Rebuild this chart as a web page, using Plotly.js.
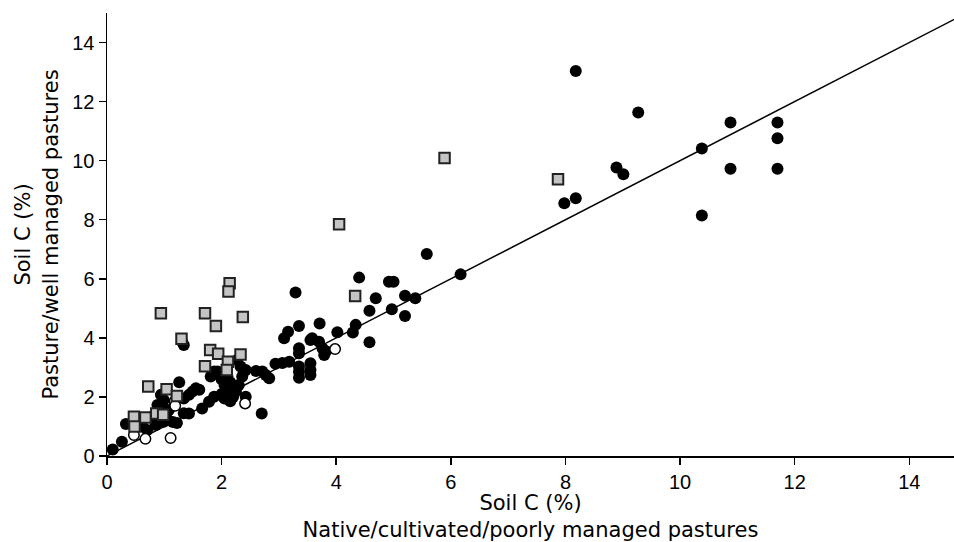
<!DOCTYPE html>
<html>
<head>
<meta charset="utf-8">
<script src="https://cdn.plot.ly/plotly-3.0.1.min.js"></script>
<style>html,body{margin:0;padding:0;background:#fff;}#chart{width:954px;height:542px;}</style>
</head>
<body>
<div id="chart"></div>
<script>
// Filled circles
const filledX = [8.18,9.27,10.88,11.70,11.70,10.38,8.89,9.01,10.88,11.70,10.38,7.98,8.18,
  5.58,6.17,4.40,4.92,5.00,3.29,4.69,5.20,5.38,4.58,4.97,5.20,4.58,4.02,4.34,4.29,
  3.35,3.71,3.16,3.09,3.55,3.70,3.58,3.35,3.35,3.76,3.82,3.79,2.94,3.06,3.18,3.35,3.35,3.35,3.55,3.55,3.55,
  2.60,2.71,2.77,2.83,2.42,2.36,2.42,2.70,2.33,2.39,2.27,
  2.00,2.10,2.05,2.15,2.20,2.10,2.00,2.25,2.20,2.05,2.30,2.15,
  1.87,1.81,1.93,1.87,1.78,1.66,1.43,1.61,1.55,1.49,1.43,1.34,1.26,1.31,1.34,
  1.08,0.94,0.99,0.94,0.88,0.79,1.05,1.15,1.22,1.34,0.99,0.85,0.62,0.70,0.33,0.26,0.10];
const filledY = [13.04,11.63,11.29,11.29,10.76,10.41,9.77,9.54,9.73,9.73,8.14,8.56,8.73,
  6.84,6.15,6.04,5.90,5.90,5.54,5.34,5.43,5.34,4.92,4.97,4.74,3.85,4.19,4.44,4.18,
  4.40,4.49,4.21,3.99,3.93,3.87,3.99,3.65,3.48,3.65,3.55,3.42,3.12,3.15,3.19,3.03,2.85,2.65,3.14,2.91,2.74,
  2.88,2.86,2.74,2.63,2.91,2.69,2.01,1.44,3.03,2.86,3.25,
  2.60,2.70,2.40,2.50,2.35,2.20,2.10,2.20,2.00,1.95,2.40,1.85,
  2.86,2.69,2.86,2.01,1.84,1.61,1.44,2.24,2.29,2.18,2.07,1.95,2.50,3.87,3.76,
  1.56,1.67,1.90,2.07,1.73,1.33,1.25,1.15,1.12,1.45,1.16,1.05,0.99,0.88,1.08,0.48,0.22];

// Open circles
const openX = [0.47,0.67,1.11,1.18,1.19,2.41,3.98];
const openY = [0.71,0.58,0.61,1.85,1.70,1.78,3.62];

// Squares
const squareX = [2.14,2.12,0.94,1.71,2.37,1.90,1.30,1.80,1.94,2.11,2.33,1.71,2.09,0.72,1.04,1.22,0.47,0.67,0.48,0.86,0.98,4.33,5.89,7.87,4.05];
const squareY = [5.85,5.57,4.83,4.83,4.71,4.40,3.97,3.59,3.46,3.19,3.44,3.04,2.91,2.35,2.26,2.03,1.33,1.30,1.00,1.44,1.40,5.42,10.09,9.37,7.85];

// 1:1 line
const lineX = [0, 15];
const lineY = [0, 15];

const tickVals = [0,2,4,6,8,10,12,14];

const traces = [
  {x: lineX, y: lineY, type: 'scatter', mode: 'lines', line: {color: '#000', width: 1.5}, hoverinfo: 'skip'},
  {x: filledX, y: filledY, type: 'scatter', mode: 'markers',
   marker: {symbol: 'circle', size: 12, color: '#000', line: {width: 0}}},
  {x: openX, y: openY, type: 'scatter', mode: 'markers',
   marker: {symbol: 'circle', size: 10.5, color: '#fff', line: {color: '#000', width: 1.5}}},
  {x: squareX, y: squareY, type: 'scatter', mode: 'markers',
   marker: {symbol: 'square', size: 10.5, color: '#c4c4c4', line: {color: '#222', width: 2}}}
];

const tickFamily = 'Liberation Sans, Arial, Helvetica, sans-serif';
const titleFamily = 'DejaVu Sans, Verdana, sans-serif';

const layout = {
  width: 954, height: 542,
  margin: {l: 107, r: 0, t: 13, b: 86},
  paper_bgcolor: '#fff', plot_bgcolor: '#fff',
  showlegend: false,
  font: {family: tickFamily, color: '#000'},
  xaxis: {
    range: [0, 14.78], tickvals: tickVals, ticktext: tickVals.map(String),
    showgrid: false, zeroline: false, showline: true, linecolor: '#000', linewidth: 1.5,
    ticks: 'outside', ticklen: 7, tickwidth: 1.5, tickcolor: '#000',
    tickfont: {size: 20, family: tickFamily, color: '#000'},
    title: {text: 'Soil C (%)<br>Native/cultivated/poorly managed pastures', font: {size: 21, family: titleFamily, color: '#000'}, standoff: 2}
  },
  yaxis: {
    range: [0, 15], tickvals: tickVals, ticktext: tickVals.map(String),
    showgrid: false, zeroline: false, showline: true, linecolor: '#000', linewidth: 1.5,
    ticks: 'outside', ticklen: 7, tickwidth: 1.5, tickcolor: '#000',
    tickfont: {size: 20, family: tickFamily, color: '#000'},
    title: {text: 'Soil C (%)<br>Pasture/well managed pastures', font: {size: 21, family: titleFamily, color: '#000'}, standoff: 8}
  }
};

Plotly.newPlot('chart', traces, layout, {displayModeBar: false, staticPlot: true});
</script>
</body>
</html>
